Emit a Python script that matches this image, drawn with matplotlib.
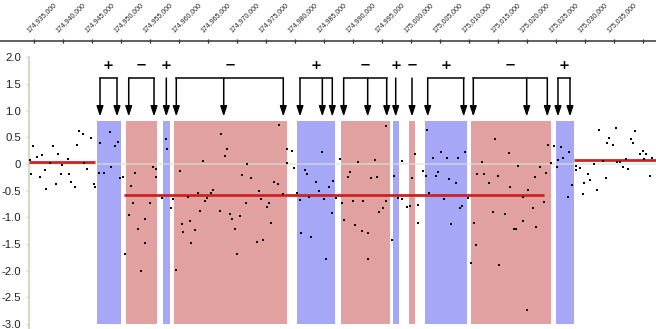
import matplotlib
matplotlib.use('Agg')
import matplotlib.pyplot as plt
import numpy as np

plt.rc('font', family='Liberation Sans')

# probe positions (kb on the chromosome) and log ratios
pos_kb = [174934.20, 174934.78, 174934.43, 174935.41, 174936.04, 174936.27, 174936.84, 174937.07,
          174937.65, 174938.22, 174938.74, 174939.14, 174939.60, 174939.78, 174940.75, 174940.98,
          174941.27, 174941.96, 174942.36, 174942.76, 174943.45, 174943.57, 174944.14, 174944.78,
          174945.35, 174945.47,
          174946.39, 174946.16, 174947.02, 174947.99, 174948.22, 174948.91, 174949.49, 174949.83,
          174950.29, 174950.58, 174951.61, 174952.02, 174952.30, 174951.27, 174952.88, 174953.34,
          174954.03, 174954.14, 174954.95, 174955.41, 174955.93, 174955.93, 174957.07, 174957.76,
          174957.88, 174958.51, 174958.97, 174960.06, 174959.49, 174960.52, 174960.58, 174961.50,
          174961.84, 174961.96,
          174977.19, 174967.13, 174968.22, 174967.88, 174964.09, 174971.73, 174970.81, 174972.36,
          174976.39, 174976.96, 174965.81, 174965.52, 174963.22, 174973.68, 174977.82, 174964.72,
          174964.37, 174974.09, 174975.41, 174975.06, 174971.44, 174963.51, 174967.07, 174968.74,
          174969.03, 174970.47, 174962.65, 174969.60, 174975.81, 174973.40, 174974.49, 174969.95,
          174978.51, 174979.49, 174978.51, 174979.72, 174984.60, 174981.73, 174982.07, 174983.57,
          174986.56, 174985.75, 174984.03, 174980.29, 174980.87, 174982.42, 174984.95, 174986.33,
          174980.98, 174982.76, 174985.35, 174986.96, 174987.71, 174989.37, 174989.09, 174988.11,
          174988.34,
          174995.58, 174990.87, 174993.80, 174992.99, 174994.03, 174989.89, 174991.67, 174995.58,
          174995.06, 174994.37, 174990.29, 174991.44, 174992.48, 174992.53, 174997.07, 174997.65,
          174996.61, 174998.45, 174998.34, 174999.26, 175000.06, 175000.64, 174999.72, 175001.96,
          175001.21, 175001.21, 175002.76, 175003.68, 175005.06, 175006.10, 175008.05, 175009.26,
          175002.53, 175004.26, 175004.60, 175006.44, 175007.65, 175003.11, 175005.64, 175008.80,
          175008.34, 175006.79, 175009.72, 175014.49, 175012.19, 175011.33, 175012.48, 175014.89,
          175013.34, 175014.03, 175010.75, 175011.10, 175010.29, 175015.06,
          175016.90, 175018.45, 175022.25, 175023.28, 175021.33, 175017.02, 175020.18, 175019.20,
          175022.82, 175020.98, 175016.21, 175019.20, 175021.56, 175017.71, 175018.05, 175023.57,
          175024.03, 175019.95, 175024.60, 175025.87, 175027.25, 175026.21, 175025.29, 175025.06,
          175027.71, 175027.02, 175028.45, 175028.34, 175029.03, 175029.55, 175029.83, 175030.52,
          175030.75, 175031.56, 175032.02, 175032.36, 175032.99, 175033.51, 175033.74, 175034.03,
          175034.83, 175035.29, 175035.52, 175035.98, 175036.50, 175037.07, 175037.36, 175037.82,
          175038.17, 175038.57, 175039.37, 175039.89, 175040.52, 175040.18, 175041.10, 175041.44]

log_ratio = [0.07, 0.34, -0.18, 0.14, -0.24, 0.16, -0.11, -0.47,
             0.01, 0.33, -0.38, 0.19, -0.18, -0.02, 0.09, -0.18,
             -0.33, -0.44, 0.36, 0.61, 0.56, 0.01, -0.10, 0.48,
             -0.38, -0.43,
             0.39, -0.16, -0.16, 0.60, -0.05, 0.34, 0.41, -0.27,
             -0.25, -1.69, -0.41, -0.74, -0.16, -0.96, -1.21, -2.00,
             -1.04, -1.48, -0.74, -0.06, -0.09, -0.24, -0.63, 0.46,
             0.29, -0.82, -0.66, -0.13, -1.98, -1.12, -1.28, -0.61,
             -1.07, -1.48,
             0.73, 0.57, 0.28, 0.15, 0.05, 0.00, -0.21, -0.26,
             -0.34, -0.37, -0.48, -0.54, -0.55, -0.51, -0.56, -0.64,
             -0.69, -0.66, -0.73, -0.81, -0.74, -0.89, -0.89, -0.94,
             -1.03, -0.98, -1.24, -1.21, -1.10, -1.47, -1.43, -1.69,
             0.28, 0.24, 0.01, -0.08, 0.23, -0.11, -0.18, -0.34,
             -0.31, -0.44, -0.51, -0.54, -0.68, -0.61, -0.66, -0.92,
             -1.30, -1.36, -1.79, -0.63, 0.09, -0.15, -0.24, -0.74,
             -1.05,
             0.71, 0.03, 0.07, -0.26, -0.25, -0.69, -0.70, -0.70,
             -0.82, -0.90, -1.15, -1.26, -1.30, -1.79, -0.23, -0.63,
             -1.43, 0.06, -0.66, -0.81, -0.27, 0.18, -0.79, -0.13,
             -0.77, -1.10, 0.63, 0.12, 0.23, 0.11, 0.11, 0.22,
             -0.23, -0.23, -0.15, -0.29, -0.36, -0.54, -0.66, -0.79,
             -0.82, -1.13, -0.63, 0.46, 0.03, -0.19, -0.19, -0.23,
             -0.36, -0.90, -1.11, -1.51, -1.86, -1.89,
             0.20, -0.04, -0.05, -0.16, -0.25, -0.43, -0.49, -0.61,
             -0.72, -0.82, -0.94, -1.06, -1.19, -1.22, -1.21, 0.35,
             0.01, -2.73, 0.33, 0.31, 0.22, 0.11, 0.07, -0.05,
             -0.40, -0.61, -0.03, -0.12, -0.08, -0.56, -0.36, -0.19,
             -0.30, 0.00, -0.48, 0.63, 0.06, -0.26, 0.39, 0.49,
             0.35, 0.67, 0.04, 0.04, -0.06, 0.09, -0.10, 0.47,
             0.39, 0.61, 0.19, 0.24, 0.18, 0.09, -0.23, 0.11]

# segment means
seg_start = [174934.14, 174950.52, 175028.05]
seg_end = [174945.47, 175022.88, 175042.19]
seg_mean = [0.03, -0.58, 0.075]

# gain / loss regions
band_start = [174945.86, 174950.76, 174957.24, 174959.03, 174980.35, 174987.83,
              174996.85, 174999.66, 175002.36, 175010.24, 175024.89]
band_end = [174949.90, 174956.10, 174958.40, 174978.52, 174986.90, 174996.33,
            174997.88, 175000.69, 175009.60, 175024.08, 175028.05]
band_top = 0.81
band_bottom = -3.0

# arrow groups above the regions
arrow_groups = [[174946.33, 174949.26], [174951.28, 174955.64], [174957.76],
                [174959.48, 174967.66, 174977.93], [174980.81, 174984.66, 174986.38],
                [174988.34, 174992.48, 174995.76], [174997.31], [175000.12],
                [175002.83, 175009.03], [175010.69, 175019.90, 175023.45],
                [175025.29, 175027.36]]
group_sign = ['+', '\u2212', '+', '\u2212', '+', '\u2212', '+', '\u2212', '+', '\u2212', '+']

top_ticks = list(range(174935, 175041, 5))
top_labels = ['174,935,000', '174,940,000', '174,945,000', '174,950,000', '174,955,000',
              '174,960,000', '174,965,000', '174,970,000', '174,975,000', '174,980,000',
              '174,985,000', '174,990,000', '174,995,000', '175,000,000', '175,005,000',
              '175,010,000', '175,015,000', '175,020,000', '175,025,000', '175,030,000',
              '175,035,000', '']
y_ticks = [2.0, 1.5, 1.0, 0.5, 0, -0.5, -1.0, -1.5, -2.0, -2.5, -3.0]
y_labels = ['2.0', '1.5', '1.0', '0.5', '0', '-0.5', '-1.0', '-1.5', '-2.0', '-2.5', '-3.0']

W, H = 656, 329
fig = plt.figure(figsize=(W / 100, H / 100), dpi=100)

# coordinate ruler on top
ax_t = fig.add_axes([0, (H - 40.7) / H, 1, 40.7 / H])
ax_t.set_xlim(174929.086, 175042.19)
ax_t.set_ylim(0, 1)
for s in ['top', 'left', 'right']:
    ax_t.spines[s].set_visible(False)
ax_t.spines['bottom'].set_color('#444444')
ax_t.spines['bottom'].set_linewidth(1.2)
ax_t.set_yticks([])
ax_t.set_xticks(top_ticks)
ax_t.tick_params(axis='x', direction='inout', length=3.0, width=0.9, color='#222222',
                 labelbottom=False)
for t, lab in zip(top_ticks, top_labels):
    ax_t.annotate(lab, xy=(t, 0), xycoords=('data', 'axes fraction'), xytext=(-2.6, 5.0),
                  textcoords='offset points', rotation=45, ha='left', va='bottom',
                  rotation_mode='anchor', fontsize=5.0, color='#222222')

# main plot
ax = fig.add_axes([29.3 / W, 0, 1 - 29.3 / W, (H - 57.3) / H])
ax.set_xlim(174934.138, 175042.19)
ax.set_ylim(-3.094, 2.0)

blue = '#a7a7f7'
pink = '#e2a1a1'
for i, (a, b) in enumerate(zip(band_start, band_end)):
    ax.bar(a, band_top - band_bottom, bottom=band_bottom, width=b - a, align='edge',
           color=blue if group_sign[i] == '+' else pink, lw=0, zorder=1)

ax.axhline(0, color='#d8e4d4', lw=1.2, alpha=0.7, zorder=1.5)
ax.hlines(seg_mean, seg_start, seg_end, color='#cc2222', lw=2.0, zorder=3)
ax.scatter(pos_kb, log_ratio, marker='s', s=3.0, color='black', lw=0, zorder=4)

# brackets with arrows
y_bar, y_tip, y_sign = 1.61, 0.89, 1.73
for xs, sg in zip(arrow_groups, group_sign):
    if len(xs) > 1:
        ax.plot([min(xs), max(xs)], [y_bar, y_bar], color='black', lw=1.1,
                solid_capstyle='projecting', zorder=5)
    for x in xs:
        ax.annotate('', xy=(x, y_tip), xytext=(x, y_bar),
                    arrowprops=dict(arrowstyle='-|>,head_length=0.6,head_width=0.2',
                                    color='black', lw=1.1, shrinkA=0, shrinkB=0),
                    zorder=5)
    ax.text((min(xs) + max(xs)) / 2, y_sign, sg, ha='center', va='bottom',
            fontsize=9.5, fontweight='bold', family='DejaVu Sans', zorder=5)

for s in ['top', 'right', 'bottom']:
    ax.spines[s].set_visible(False)
ax.spines['left'].set_color('#c9ddb6')
ax.spines['left'].set_linewidth(1.3)
ax.set_xticks([])
ax.set_yticks(y_ticks)
ax.set_yticklabels(y_labels)
ax.tick_params(axis='y', direction='out', length=2.5, width=1, color='#c9ddb6',
               labelsize=8.2, labelcolor='#222222', pad=3.5)

fig.savefig('out.png', dpi=100)
